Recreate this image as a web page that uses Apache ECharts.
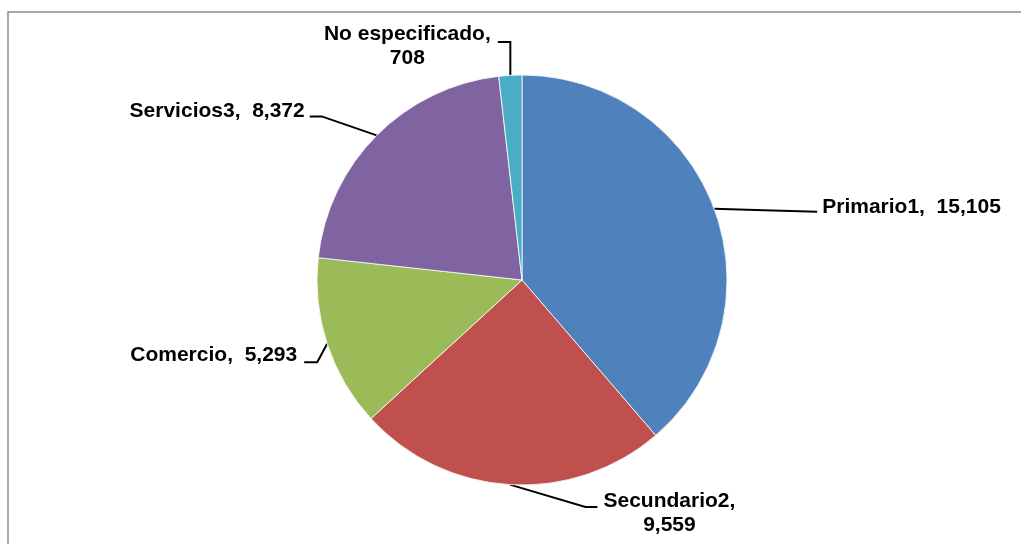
<!DOCTYPE html>
<html>
<head>
<meta charset="utf-8">
<script src="https://cdn.jsdelivr.net/npm/echarts@6/dist/echarts.min.js"></script>
<style>
html,body{margin:0;padding:0;background:#fff;}
#chart{width:1021px;height:544px;}
</style>
</head>
<body>
<div id="chart"></div>
<script>
// ---- data ----
const categories = ['Primario1', 'Secundario2', 'Comercio', 'Servicios3', 'No especificado'];
const values = [15105, 9559, 5293, 8372, 708];

// ---- styles ----
const colors = ['#4F81BD', '#C0504D', '#9BBB59', '#8064A2', '#4BACC6'];
const twoLine = [false, true, false, false, true];
// leader-line bends / label anchors, relative to each slice's edge point
const labelGeom = [
  { pts: [[50, 1.5], [103, 3]], lab: [108, -2], align: 'left' },
  { pts: [[75.5, 22.4], [87.5, 22.4]], lab: [159.5, 28.4], align: 'center' },
  { pts: [[-10, 18.5], [-23, 18.5]], lab: [-30, 11], align: 'right' },
  { pts: [[-55, -19], [-67, -19]], lab: [-72, -24], align: 'right' },
  { pts: [[0, -33.4], [-12.5, -33.4]], lab: [-103, -29], align: 'center' }
];

const chart = echarts.init(document.getElementById('chart'));
chart.setOption({
  animation: false,
  backgroundColor: '#fff',
  graphic: [{
    type: 'rect',
    shape: { x: 8, y: 12, width: 1200, height: 700 },
    style: { fill: 'none', stroke: '#8c8c8c', lineWidth: 1.5 },
    silent: true
  }],
  series: [{
    type: 'pie',
    center: [522, 280],
    radius: 205,
    startAngle: 90,
    clockwise: true,
    avoidLabelOverlap: false,
    data: categories.map((c, i) => ({
      name: c, value: values[i],
      itemStyle: { color: colors[i] }
    })),
    itemStyle: { borderColor: '#ffffff', borderWidth: 0.8 },
    label: {
      show: true,
      position: 'outside',
      color: '#000',
      fontFamily: 'Liberation Sans, Arial, sans-serif',
      fontWeight: 'bold',
      fontSize: 21,
      lineHeight: 24,
      formatter: p => p.name + ',' + (twoLine[p.dataIndex] ? '\n' : '  ') + p.value.toLocaleString('en-US')
    },
    labelLine: {
      show: true,
      length: 10,
      length2: 10,
      lineStyle: { color: '#000', width: 2 }
    },
    labelLayout: function (params) {
      const g = labelGeom[params.dataIndex];
      const p0 = params.labelLinePoints[0];
      return {
        x: p0[0] + g.lab[0],
        y: p0[1] + g.lab[1],
        align: g.align,
        verticalAlign: 'middle',
        labelLinePoints: [
          [p0[0], p0[1]],
          [p0[0] + g.pts[0][0], p0[1] + g.pts[0][1]],
          [p0[0] + g.pts[1][0], p0[1] + g.pts[1][1]]
        ]
      };
    }
  }]
});
</script>
</body>
</html>
